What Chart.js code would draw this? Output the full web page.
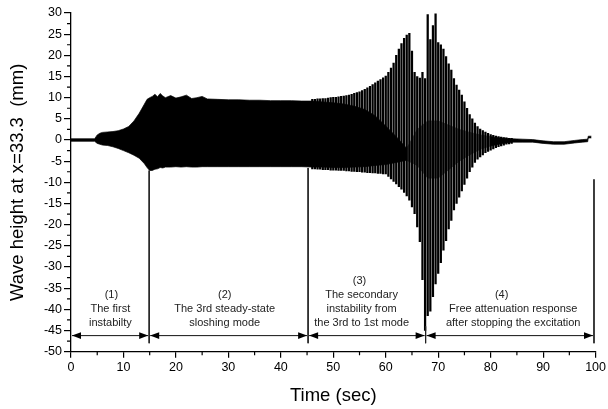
<!DOCTYPE html>
<html><head><meta charset="utf-8">
<script src="https://cdn.jsdelivr.net/npm/chart.js@4.4.0/dist/chart.umd.min.js"></script>
<style>html,body{margin:0;padding:0;background:#fff}</style>
</head><body>
<canvas id="c" width="608" height="409"></canvas>
<script>
// ---- Data ----
// dense core of the oscillation (upper / lower envelope)
const coreTime  = [0, 4.5, 5, 5.5, 6, 7, 8, 9, 10, 11, 12, 13, 14, 14.5, 15, 15.5, 16, 16.5, 17, 17.5, 18, 19, 20, 21, 22, 23, 24, 25, 26, 28, 30, 32, 34, 36, 38, 40, 42, 44, 46, 48, 50, 52, 54, 56, 58, 60, 62, 64, 66, 68, 70, 72, 74, 76, 78, 80, 82, 84, 86, 88, 90, 92, 94, 96, 97.5, 98.5, 98.6, 99.2];
const coreUpper = [0.3, 0.3, 1.2, 1.6, 1.8, 1.9, 2.0, 2.2, 2.6, 3.2, 4.5, 6.3, 8.5, 9.6, 10.0, 10.3, 10.8, 10.2, 11.0, 10.4, 10.0, 10.5, 9.9, 10.2, 10.6, 9.8, 10.0, 10.3, 9.7, 9.6, 9.5, 9.5, 9.4, 9.4, 9.3, 9.3, 9.3, 9.2, 9.2, 9.0, 8.8, 8.5, 8.0, 7.2, 5.7, 3.3, 0.8, -2.0, 2.5, 4.5, 4.5, 3.5, 2.5, 1.8, 1.2, 0.8, 0.5, 0.3, 0.2, 0.1, -0.2, -0.4, -0.4, -0.1, 0.1, 0.2, 0.9, 0.9];
const coreLower = [-0.3, -0.3, -0.8, -1.0, -1.2, -1.3, -1.6, -2.0, -2.5, -3.0, -3.6, -4.3, -5.6, -6.5, -7.2, -7.2, -6.9, -6.8, -6.5, -6.6, -6.4, -6.4, -6.3, -6.4, -6.3, -6.4, -6.4, -6.3, -6.3, -6.3, -6.3, -6.3, -6.3, -6.3, -6.3, -6.3, -6.3, -6.3, -6.4, -6.4, -6.5, -6.5, -6.4, -6.3, -6.0, -5.8, -5.3, -4.8, -6.0, -9.0, -9.0, -7.0, -5.0, -3.5, -2.2, -1.4, -0.9, -0.5, -0.5, -0.5, -0.8, -1.0, -1.0, -0.7, -0.5, -0.4, 0.5, 0.5];

// individual large oscillation strokes (crest / trough per cycle)
const spikeTime  = [46, 46.5, 47, 47.5, 48, 48.5, 49, 49.5, 50, 50.5, 51, 51.5, 52, 52.5, 53, 53.5, 54, 54.5, 55, 55.5, 56, 56.5, 57, 57.5, 58, 58.5, 59, 59.5, 60, 60.5, 61, 61.5, 62, 62.5, 63, 63.5, 64, 64.5, 65, 65.5, 66, 66.5, 67, 67.5, 68, 68.5, 69, 69.5, 70, 70.5, 71, 71.5, 72, 72.5, 73, 73.5, 74, 74.5, 75, 75.5, 76, 76.5, 77, 77.5, 78, 78.5, 79, 79.5, 80, 80.5, 81, 81.5, 82, 82.5, 83, 83.5, 84];
const spikeUpper = [9.6, 9.6, 9.7, 9.7, 9.8, 9.8, 9.9, 10, 10.1, 10.1, 10.2, 10.3, 10.4, 10.5, 10.6, 10.8, 11, 11.2, 11.4, 11.7, 12, 12.3, 12.7, 13.1, 13.5, 13.9, 14.3, 14.7, 15.1, 16, 17, 18.2, 20, 21.5, 22.8, 24, 24.8, 25.2, 21, 16, 15, 14.6, 16, 14.5, 29.6, 23.7, 27, 29.8, 23, 22.5, 21.5, 19.7, 18, 16.5, 14.5, 13, 11.8, 10.6, 9, 7.5, 6, 5, 4, 3.2, 2.6, 2.2, 1.9, 1.6, 1.3, 1.1, 0.9, 0.8, 0.7, 0.6, 0.5, 0.4, 0.4];
const spikeLower = [-6.8, -6.8, -6.9, -6.9, -7.0, -7.0, -7.0, -7.1, -7.1, -7.1, -7.2, -7.2, -7.2, -7.3, -7.3, -7.4, -7.4, -7.5, -7.5, -7.6, -7.6, -7.7, -7.7, -7.8, -7.8, -7.9, -7.9, -8.0, -8.0, -8.6, -9.2, -9.8, -10.4, -11.0, -11.6, -12.4, -13.2, -14.2, -15.8, -17.4, -20.5, -24, -33, -45, -41.5, -40.4, -37, -34, -31.5, -29, -26, -23.8, -21, -19, -16.5, -15, -13.5, -12, -10.5, -9, -7.5, -6.4, -5.3, -4.5, -4.0, -3.5, -3.0, -2.7, -2.4, -2.1, -1.8, -1.6, -1.4, -1.2, -1.0, -0.9, -0.8];

// phase boundaries (vertical separators) and annotation texts
const phaseBounds  = [0, 14.9, 45.2, 67.6, 99.7];
const dividerTimes = [14.9, 45.2, 67.6, 99.7];
const dividerTops  = [-7.2, -6.6, -44, -9.3];
const dividerBottom = -48;
const arrowLevel = -46.2;
const labelBottom = -43.3;
const phaseNumberX = [7.7, 29.3, 55.0, 82.1];
const phaseTextX   = [7.5, 29.3, 55.4, 84.3];
const phaseLabels = [
  ["(1)", "The first", "instabilty"],
  ["(2)", "The 3rd steady-state", "sloshing mode"],
  ["(3)", "The secondary", "instability from", "the 3rd to 1st mode"],
  ["(4)", "Free attenuation response", "after stopping the excitation"]
];
const xMinorTicks = [5, 15, 25, 35, 45, 55, 65, 75, 85, 95];
const yMinorTicks = [-47.5, -42.5, -37.5, -32.5, -27.5, -22.5, -17.5, -12.5, -7.5, -2.5, 2.5, 7.5, 12.5, 17.5, 22.5, 27.5];

const FONT = "'Liberation Sans', Arial, Helvetica, sans-serif";
const inMix = c => (c.p0.parsed.x >= 64 && c.p1.parsed.x <= 80);

const datasets = [
  { type: 'line', order: 2, data: coreTime.map((t, i) => ({ x: t, y: coreUpper[i] })),
    borderColor: '#000', borderWidth: 0.7, pointRadius: 0, tension: 0, fill: false,
    segment: { borderColor: c => inMix(c) ? '#666' : '#000' } },
  { type: 'line', order: 2, data: coreTime.map((t, i) => ({ x: t, y: coreLower[i] })),
    borderColor: '#000', borderWidth: 0.7, pointRadius: 0, tension: 0, fill: '-1',
    backgroundColor: '#000',
    segment: { backgroundColor: c => inMix(c) ? '#7a7a7a' : '#000',
               borderColor: c => inMix(c) ? '#666' : '#000' } },
  { type: 'bar', order: 1, data: spikeTime.map((t, i) => ({ x: t, y: [spikeLower[i], spikeUpper[i]] })),
    backgroundColor: '#000', borderWidth: 0, barThickness: 1.6 }
];
dividerTimes.forEach((t, i) => {
  datasets.push({ type: 'line', order: 0, data: [{ x: t, y: dividerTops[i] }, { x: t, y: dividerBottom }],
    borderColor: '#222', borderWidth: 1, pointRadius: 0, fill: false });
});

const annot = {
  id: 'annot',
  afterDraw(chart) {
    const { ctx, scales: { x, y }, chartArea: a } = chart;
    ctx.save();
    ctx.strokeStyle = '#000'; ctx.lineWidth = 1.2;
    ctx.beginPath();
    for (const v of yMinorTicks) { const py = y.getPixelForValue(v); ctx.moveTo(a.left - 4, py); ctx.lineTo(a.left, py); }
    for (const v of xMinorTicks) { const px = x.getPixelForValue(v); ctx.moveTo(px, a.bottom); ctx.lineTo(px, a.bottom + 3.5); }
    ctx.stroke();
    const ay = y.getPixelForValue(arrowLevel);
    ctx.lineWidth = 1; ctx.strokeStyle = '#111'; ctx.fillStyle = '#000';
    const head = (px, dir) => {
      ctx.beginPath(); ctx.moveTo(px, ay); ctx.lineTo(px + dir * 9, ay - 3.3); ctx.lineTo(px + dir * 9, ay + 3.3); ctx.closePath(); ctx.fill();
    };
    for (let i = 0; i < phaseBounds.length - 1; i++) {
      const x0 = x.getPixelForValue(phaseBounds[i]) + 1, x1 = x.getPixelForValue(phaseBounds[i + 1]) - 1;
      ctx.beginPath(); ctx.moveTo(x0, ay); ctx.lineTo(x1, ay); ctx.stroke();
      head(x0, 1); head(x1, -1);
    }
    ctx.font = "11px " + FONT; ctx.textAlign = 'center'; ctx.textBaseline = 'middle'; ctx.fillStyle = '#222';
    const by = y.getPixelForValue(labelBottom);
    phaseLabels.forEach((lines, i) => {
      const n = lines.length;
      lines.forEach((s, j) => {
        const cx = x.getPixelForValue(j === 0 ? phaseNumberX[i] : phaseTextX[i]);
        ctx.fillText(s, cx, by - (n - 1 - j) * 14.2);
      });
    });
    ctx.restore();
  }
};

new Chart(document.getElementById('c'), {
  type: 'line',
  data: { datasets },
  options: {
    responsive: false, animation: false, devicePixelRatio: 1, events: [],
    plugins: { legend: { display: false }, tooltip: { enabled: false } },
    layout: { padding: { top: 13, right: 12, left: 0, bottom: 0 } },
    scales: {
      x: { type: 'linear', min: 0, max: 100, offset: false,
        ticks: { stepSize: 10, font: { family: FONT, size: 12.5 }, color: '#000', padding: 2, maxRotation: 0 },
        grid: { offset: false, drawOnChartArea: false, drawTicks: true, tickLength: 6, color: '#000', lineWidth: 1.2 },
        border: { color: '#000', width: 1.3 },
        title: { display: true, text: 'Time (sec)', font: { family: FONT, size: 18.5 }, color: '#000', padding: { top: 0, bottom: 1.5 } },
        afterFit(s) { s.height = 57.3; } },
      y: { type: 'linear', min: -50, max: 30,
        ticks: { stepSize: 5, font: { family: FONT, size: 12.5 }, color: '#000', padding: 2 },
        grid: { drawOnChartArea: false, drawTicks: true, tickLength: 7, color: '#000', lineWidth: 1.2 },
        border: { color: '#000', width: 1.3 },
        title: { display: true, text: 'Wave height at x=33.3  (mm)', font: { family: FONT, size: 18.5 }, color: '#000', padding: { top: 7, bottom: 0 } },
        afterFit(s) { s.width = 71; } }
    }
  },
  plugins: [annot]
});
</script>
</body></html>
